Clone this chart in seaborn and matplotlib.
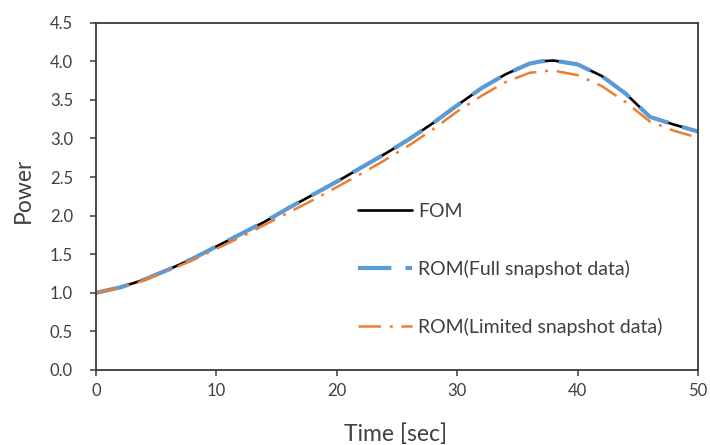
import matplotlib
matplotlib.use("Agg")
import matplotlib.pyplot as plt
import seaborn as sns
import pandas as pd

time_sec = [0, 2, 4, 6, 8, 10, 12, 14, 16, 18, 20, 22, 24, 26, 28, 30, 32, 34, 36, 37, 38, 40, 42, 44, 46, 48, 50]
fom = [1.00, 1.07, 1.17, 1.30, 1.44, 1.60, 1.76, 1.92, 2.10, 2.27, 2.44, 2.62, 2.80, 2.99, 3.20, 3.43, 3.65, 3.83, 3.97, 4.00, 4.01, 3.96, 3.81, 3.58, 3.28, 3.18, 3.09]
rom_full = [1.00, 1.07, 1.17, 1.30, 1.44, 1.60, 1.76, 1.92, 2.10, 2.27, 2.44, 2.62, 2.80, 2.99, 3.20, 3.43, 3.65, 3.83, 3.97, 4.00, 4.01, 3.96, 3.81, 3.58, 3.28, 3.18, 3.09]
rom_limited = [1.00, 1.07, 1.16, 1.29, 1.42, 1.57, 1.72, 1.88, 2.04, 2.20, 2.37, 2.54, 2.72, 2.91, 3.12, 3.35, 3.55, 3.73, 3.85, 3.87, 3.88, 3.82, 3.68, 3.47, 3.22, 3.10, 3.01]

labels = ["FOM", "ROM(Full snapshot data)", "ROM(Limited snapshot data)"]
colors = ["#000000", "#5B9BD5", "#ED7D31"]
xticks = [0, 10, 20, 30, 40, 50]
yticks = [0.0, 0.5, 1.0, 1.5, 2.0, 2.5, 3.0, 3.5, 4.0, 4.5]

sns.set_theme(style="white")
plt.rcParams["font.family"] = ["Lato", "DejaVu Sans"]

fig = plt.figure(figsize=(7.1, 4.45), dpi=100)
ax = fig.add_axes([96 / 710, 1 - 370 / 445, (698 - 96) / 710, (370 - 22.7) / 445])

df = pd.DataFrame({"t": time_sec, "FOM": fom, "FULL": rom_full, "LIM": rom_limited})

sns.lineplot(data=df, x="t", y="FOM", ax=ax, color=colors[0], linewidth=1.9, label=labels[0])
sns.lineplot(data=df, x="t", y="FULL", ax=ax, color=colors[1], linewidth=3.0, label=labels[1])
ax.lines[-1].set_dashes((8, 3.4))
sns.lineplot(data=df, x="t", y="LIM", ax=ax, color=colors[2], linewidth=1.8, label=labels[2])
ax.lines[-1].set_dashes((9, 3.5, 1.2, 3.5))

ax.set_xlim(0, 50)
ax.set_ylim(0, 4.5)
ax.set_xticks(xticks)
ax.set_xticklabels([str(v) for v in xticks])
ax.set_yticks(yticks)
ax.set_yticklabels([f"{v:.1f}" for v in yticks])

edge = "#3a3a3a"
for s in ax.spines.values():
    s.set_color(edge)
    s.set_linewidth(1.3)
    s.set_visible(True)

ax.tick_params(axis="both", which="major", direction="out", length=4.5, width=1.1,
               color=edge, labelsize=12, labelcolor="#404040", bottom=True, left=True)
ax.tick_params(axis="y", pad=12)
ax.tick_params(axis="x", pad=5)

ax.set_xlabel("Time [sec]", fontsize=16.5, color="#404040")
ax.set_ylabel("Power", fontsize=16.5, color="#404040")
ax.xaxis.set_label_coords(0.497, -0.153)
ax.yaxis.set_label_coords(-0.103, 0.518)

leg = ax.legend(loc="upper left", bbox_to_anchor=(358 / 710, 1 - 203 / 445),
                bbox_transform=fig.transFigure, frameon=False, fontsize=14,
                handlelength=2.8, handletextpad=0.3, labelspacing=2.05,
                borderpad=0, borderaxespad=0)
for t in leg.get_texts():
    t.set_color("#404040")

fig.savefig("out.png", dpi=100)
